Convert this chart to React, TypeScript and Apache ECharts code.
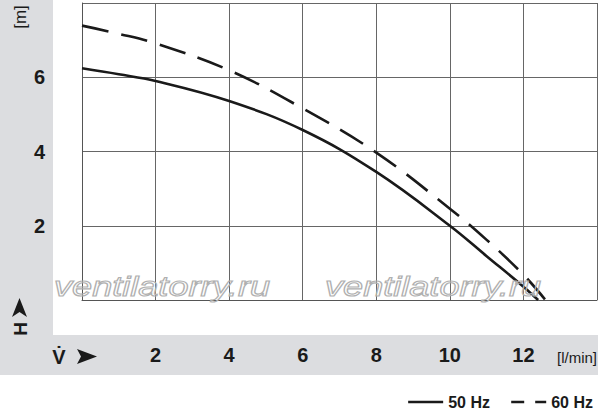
import React, { useEffect, useRef } from "react";
import * as echarts from "echarts";

const flowTicks = [0, 2, 4, 6, 8, 10, 12, 14];
const headTicks = [0, 2, 4, 6, 8];
const curve50Flow = [0, 1, 2, 4, 6, 8, 10, 11, 12, 12.4];
const curve50Head = [6.24, 6.08, 5.9, 5.36, 4.58, 3.45, 2.0, 1.18, 0.36, 0];
const curve60Flow = [0, 1, 2, 4, 6, 8, 10, 11, 12, 12.6];
const curve60Head = [7.39, 7.17, 6.91, 6.19, 5.16, 3.97, 2.46, 1.62, 0.68, 0];
const seriesNames = ["50 Hz", "60 Hz"];
const xUnit = "[l/min]";
const yUnit = "[m]";
const watermark = "ventilatorry.ru";

const FONT = "'Liberation Sans Narrow', 'Arial Narrow', 'Liberation Sans', sans-serif";
const GRAY = "#dcdde0";

export default function App() {
  const ref = useRef<HTMLDivElement>(null);
  useEffect(() => {
    if (!ref.current) return;
    const chart = echarts.init(ref.current, undefined, { renderer: "svg" });
    const pairs = (xs: number[], ys: number[]) => xs.map((x, i) => [x, ys[i]]);
    chart.setOption({
      animation: false,
      backgroundColor: "#ffffff",
      grid: { left: 82, right: 2, top: 3, bottom: 113, containLabel: false },
      xAxis: {
        type: "value",
        min: flowTicks[0],
        max: flowTicks[flowTicks.length - 1],
        interval: 2,
        axisLine: { show: true, onZero: false, lineStyle: { color: "#555", width: 1 } },
        axisTick: { show: false },
        splitLine: { show: true, lineStyle: { color: "#666", width: 1 } },
        axisLabel: {
          show: true,
          margin: 55,
          verticalAlign: "middle",
          fontFamily: FONT,
          fontSize: 20,
          fontWeight: "bold",
          color: "#1a1a1a",
          formatter: (v: number) => (v === 0 || v === 14 ? "" : String(v)),
        },
      },
      yAxis: {
        type: "value",
        min: headTicks[0],
        max: headTicks[headTicks.length - 1],
        interval: 2,
        axisLine: { show: true, lineStyle: { color: "#555", width: 1 } },
        axisTick: { show: false },
        splitLine: { show: true, lineStyle: { color: "#666", width: 1 } },
        axisLabel: {
          show: true,
          margin: 37,
          fontFamily: FONT,
          fontSize: 20,
          fontWeight: "bold",
          color: "#1a1a1a",
          formatter: (v: number) => (v === 0 || v === 8 ? "" : String(v)),
        },
      },
      legend: {
        show: true,
        right: 2,
        top: 389,
        itemWidth: 35,
        itemHeight: 12,
        itemGap: 20,
        itemStyle: { opacity: 0 },
        textStyle: { fontFamily: FONT, fontSize: 16, fontWeight: "bold", color: "#1a1a1a" },
        data: [
          { name: seriesNames[0], itemStyle: { opacity: 0 }, lineStyle: { type: "solid", width: 2.5, color: "#1a1a1a" } },
          { name: seriesNames[1], itemStyle: { opacity: 0 }, lineStyle: { type: [13, 11], width: 2.5, color: "#1a1a1a" } },
        ],
      },
      series: [
        {
          name: seriesNames[0],
          type: "line",
          smooth: 0.4,
          showSymbol: false,
          symbol: "none",
          lineStyle: { color: "#1a1a1a", width: 2.6, type: "solid" },
          itemStyle: { color: "#1a1a1a" },
          data: pairs(curve50Flow, curve50Head),
          z: 5,
        },
        {
          name: seriesNames[1],
          type: "line",
          smooth: 0.4,
          showSymbol: false,
          symbol: "none",
          lineStyle: { color: "#1a1a1a", width: 2.6, type: [27, 13] },
          itemStyle: { color: "#1a1a1a" },
          data: pairs(curve60Flow, curve60Head),
          z: 5,
        },
      ],
      graphic: [
        { type: "rect", z: -10, shape: { x: 0, y: 0, width: 53, height: 335 }, style: { fill: GRAY } },
        { type: "rect", z: -10, shape: { x: 0, y: 335, width: 598, height: 40 }, style: { fill: GRAY } },
        {
          type: "text",
          z: 10,
          x: 54,
          y: 272,
          scaleX: 1.29,
          style: {
            text: watermark,
            fontFamily: "'Liberation Sans', sans-serif",
            fontStyle: "italic",
            fontSize: 28,
            fill: "rgba(255,255,255,0)",
            stroke: "#b0b0b0",
            lineWidth: 1.1,
          },
        },
        {
          type: "text",
          z: 10,
          x: 325,
          y: 272,
          scaleX: 1.29,
          style: {
            text: watermark,
            fontFamily: "'Liberation Sans', sans-serif",
            fontStyle: "italic",
            fontSize: 28,
            fill: "rgba(255,255,255,0)",
            stroke: "#b0b0b0",
            lineWidth: 1.1,
          },
        },
        {
          type: "text",
          z: 10,
          x: 20,
          y: 17,
          rotation: Math.PI / 2,
          style: { text: yUnit, fontFamily: FONT, fontSize: 17, fill: "#1a1a1a", align: "center", verticalAlign: "middle" },
        },
        {
          type: "text",
          z: 10,
          x: 20,
          y: 329,
          rotation: Math.PI / 2,
          style: { text: "H", fontFamily: FONT, fontSize: 19, fontWeight: "bold", fill: "#1a1a1a", align: "center", verticalAlign: "middle" },
        },
        {
          type: "polygon",
          z: 10,
          shape: { points: [[19.5, 298], [27, 317], [19.5, 312], [12, 317]] },
          style: { fill: "#1a1a1a" },
        },
        {
          type: "text",
          z: 10,
          x: 59,
          y: 357,
          style: { text: "V\u0307", fontFamily: FONT, fontSize: 20, fontWeight: "bold", fill: "#1a1a1a", align: "center", verticalAlign: "middle" },
        },
        {
          type: "polygon",
          z: 10,
          shape: { points: [[77, 349], [97, 356.5], [77, 364], [81, 356.5]] },
          style: { fill: "#1a1a1a" },
        },
        {
          type: "text",
          z: 10,
          x: 597,
          y: 357,
          style: { text: xUnit, fontFamily: FONT, fontSize: 15, fill: "#1a1a1a", align: "right", verticalAlign: "middle" },
        },
      ],
    });
    return () => chart.dispose();
  }, []);
  return <div ref={ref} style={{ position: "fixed", left: 0, top: 0, width: 600, height: 413 }} />;
}
